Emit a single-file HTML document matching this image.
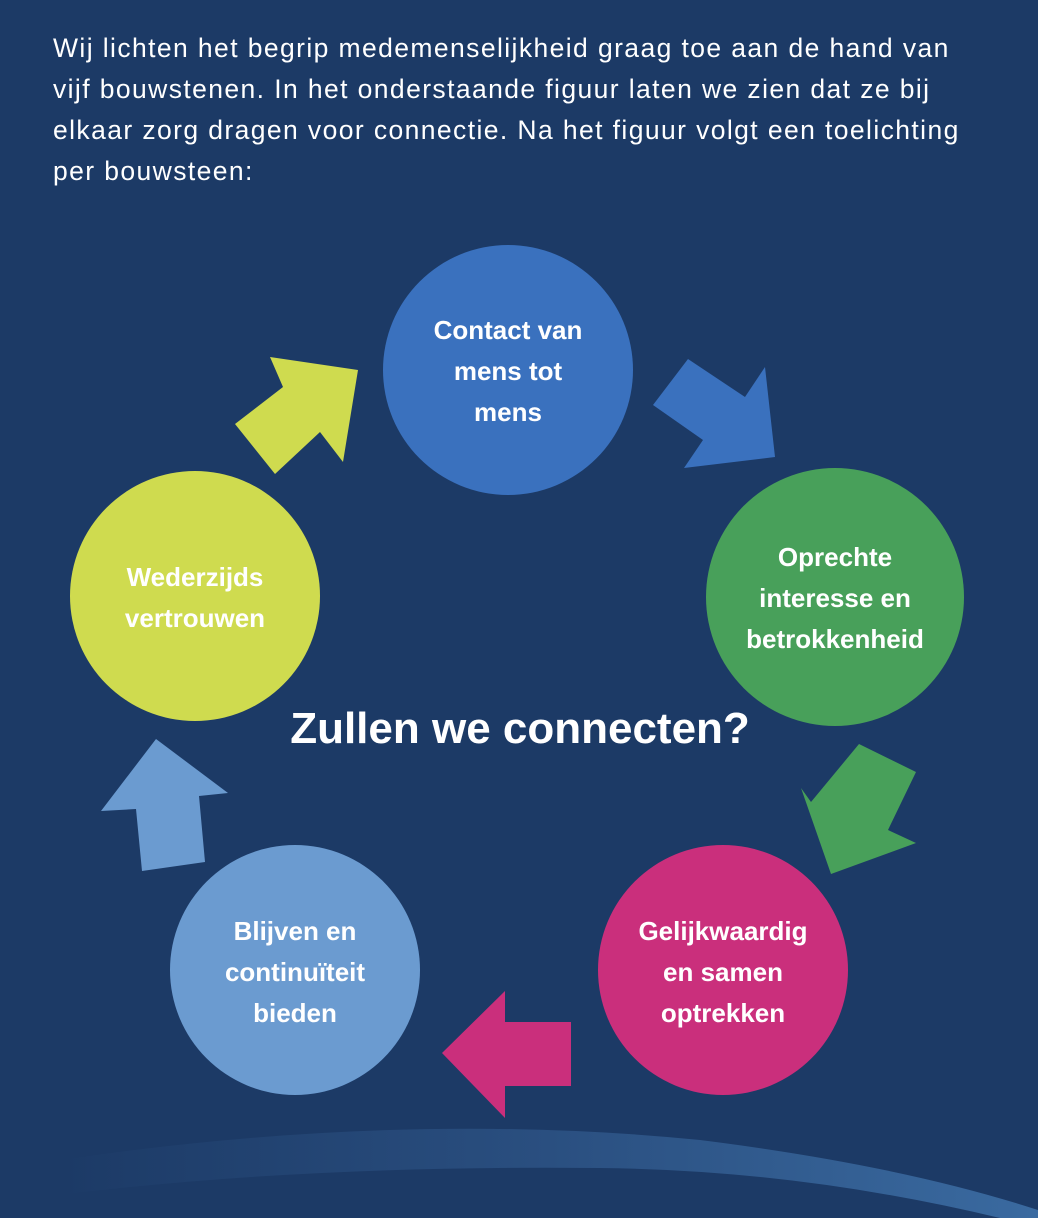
<!DOCTYPE html>
<html><head><meta charset="utf-8"><style>
body{margin:0;width:1038px;height:1218px;background:#1c3a66;overflow:hidden;font-family:"Liberation Sans",sans-serif;position:relative}
.intro{position:absolute;left:53px;top:28px;width:1000px;color:#fff;font-size:26.5px;line-height:41px;letter-spacing:1.4px;white-space:nowrap}
svg{position:absolute;left:0;top:0}
</style></head><body>
<div class="intro">Wij lichten het begrip medemenselijkheid graag toe aan de hand van<br>vijf bouwstenen. In het onderstaande figuur laten we zien dat ze bij<br>elkaar zorg dragen voor connectie. Na het figuur volgt een toelichting<br>per bouwsteen:</div>
<svg width="1038" height="1218" viewBox="0 0 1038 1218">
<defs><linearGradient id="w" x1="0" x2="1"><stop offset="0" stop-color="#1c3a66"/><stop offset="0.5" stop-color="#2a4f80"/><stop offset="1" stop-color="#3a6aa0"/></linearGradient></defs>
<path d="M60 1160 Q400 1110 700 1140 Q900 1165 1038 1210 L1038 1218 L1000 1218 Q800 1170 600 1168 Q300 1165 60 1195 Z" fill="url(#w)"/>
<polygon points="358,370 343,462 320,432 275,474 235,424 283,387 270,357" fill="#cfdb4f"/>
<polygon points="688,359 745,397 765,367 775,457 684,468 703,440 653,405" fill="#3a71be"/>
<polygon points="859,744 916,772 888,830 916,843 831,874 801,788 811,802" fill="#48a05a"/>
<polygon points="442,1053 505,991 505,1022 571,1022 571,1086 505,1086 505,1118" fill="#ca2f7c"/>
<polygon points="156,739 228,793 199,796 205,862 142,871 136,809 101,811" fill="#6b9bd0"/>
<g font-family="Liberation Sans,sans-serif" font-weight="bold" font-size="26" fill="#fff" text-anchor="middle">
<circle cx="508" cy="370" r="125" fill="#3a71be"/>
<text x="508" y="339">Contact van</text><text x="508" y="380">mens tot</text><text x="508" y="421">mens</text>
<circle cx="835" cy="597" r="129" fill="#48a05a"/>
<text x="835" y="566">Oprechte</text><text x="835" y="607">interesse en</text><text x="835" y="648">betrokkenheid</text>
<circle cx="195" cy="596" r="125" fill="#cfdb4f"/>
<text x="195" y="586">Wederzijds</text><text x="195" y="627">vertrouwen</text>
<circle cx="295" cy="970" r="125" fill="#6b9bd0"/>
<text x="295" y="940">Blijven en</text><text x="295" y="981">continuïteit</text><text x="295" y="1022">bieden</text>
<circle cx="723" cy="970" r="125" fill="#ca2f7c"/>
<text x="723" y="940">Gelijkwaardig</text><text x="723" y="981">en samen</text><text x="723" y="1022">optrekken</text>
<text x="520" y="743" font-size="44">Zullen we connecten?</text>
</g>
</svg>
</body></html>
